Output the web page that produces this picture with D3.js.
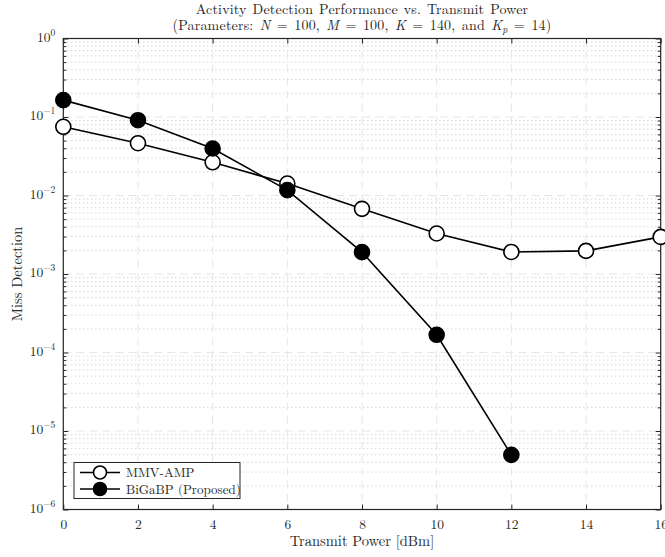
<!DOCTYPE html>
<html>
<head>
<meta charset="utf-8">
<script src="https://cdn.jsdelivr.net/npm/d3@7"></script>
<style>
  html, body { margin: 0; padding: 0; background: #fff; }
  svg { display: block; }
  text { font-family: "Latin Modern Roman", "CMU Serif", "Liberation Serif", serif; fill: #262626; }
</style>
</head>
<body>
<svg id="chart" width="665" height="557"></svg>
<script>
// Transmit power sweep [dBm]
const powerDbm = [0, 2, 4, 6, 8, 10, 12, 14, 16];
// Miss-detection probability per scheme
const mmvAmp = [0.075, 0.0464, 0.0265, 0.0142, 0.00676, 0.00328, 0.00191, 0.00197, 0.00297];
const biGaBP = [0.164, 0.091, 0.0397, 0.0117, 0.0019, 0.000168, 0.00000496];
const xTicks = [0, 2, 4, 6, 8, 10, 12, 14, 16];
const yExponents = [0, -1, -2, -3, -4, -5, -6];
const seriesNames = ["MMV-AMP", "BiGaBP (Proposed)"];

const svg = d3.select("#chart");
const plotL = 63.3, plotR = 660.7, plotT = 38.5, plotB = 509.5;

const x = d3.scaleLinear().domain([0, 16]).range([plotL, plotR]);
const y = d3.scaleLog().domain([1e-6, 1]).range([plotB, plotT]);

const axisColor = "#262626";

// grid: minor (dotted) then major (dashed)
const minorVals = [];
yExponents.slice(1).forEach(e => { for (let k = 2; k <= 9; k++) minorVals.push(k * Math.pow(10, e)); });
const majorVals = yExponents.map(e => Math.pow(10, e));
const grid = svg.append("g");
grid.selectAll("line.ymin").data(minorVals).join("line")
  .attr("x1", plotL).attr("x2", plotR)
  .attr("y1", d => y(d)).attr("y2", d => y(d))
  .attr("stroke", "#c4c4c4").attr("stroke-width", 1)
  .attr("stroke-dasharray", "1,3");
grid.selectAll("line.ymaj").data(majorVals).join("line")
  .attr("x1", plotL).attr("x2", plotR)
  .attr("y1", d => y(d)).attr("y2", d => y(d))
  .attr("stroke", "#e6e6e6").attr("stroke-width", 1)
  .attr("stroke-dasharray", "8,5");
grid.selectAll("line.xmaj").data(xTicks).join("line")
  .attr("x1", d => x(d)).attr("x2", d => x(d))
  .attr("y1", plotT).attr("y2", plotB)
  .attr("stroke", "#e6e6e6").attr("stroke-width", 1)
  .attr("stroke-dasharray", "8,5");

// axes box with inward ticks
svg.append("rect").attr("x", plotL).attr("y", plotT)
  .attr("width", plotR - plotL).attr("height", plotB - plotT)
  .attr("fill", "none").attr("stroke", axisColor).attr("stroke-width", 1.2);

const xb = d3.axisBottom(x).tickValues(xTicks).tickSize(-5).tickFormat(d3.format("d")).tickPadding(10);
const xt = d3.axisTop(x).tickValues(xTicks).tickSize(-5).tickFormat("");
const yl = d3.axisLeft(y).tickValues(majorVals).tickSize(-5).tickFormat("");
const yr = d3.axisRight(y).tickValues(majorVals).tickSize(-5).tickFormat("");
const ylm = d3.axisLeft(y).tickValues(minorVals).tickSize(-3).tickFormat("");
const yrm = d3.axisRight(y).tickValues(minorVals).tickSize(-3).tickFormat("");

function styleAxis(g) {
  g.select(".domain").remove();
  g.selectAll(".tick line").attr("stroke", axisColor).attr("stroke-width", 1);
  g.selectAll(".tick text").attr("fill", axisColor).attr("font-size", 13.5)
    .attr("font-family", '"Liberation Serif", serif');
}
svg.append("g").attr("transform", `translate(0,${plotB})`).call(xb).call(styleAxis);
svg.append("g").attr("transform", `translate(0,${plotT})`).call(xt).call(styleAxis);
svg.append("g").attr("transform", `translate(${plotL},0)`).call(yl).call(styleAxis);
svg.append("g").attr("transform", `translate(${plotR},0)`).call(yr).call(styleAxis);
svg.append("g").attr("transform", `translate(${plotL},0)`).call(ylm).call(styleAxis);
svg.append("g").attr("transform", `translate(${plotR},0)`).call(yrm).call(styleAxis);

// y tick labels as 10^e
const yLab = svg.append("g");
yExponents.forEach(e => {
  const t = yLab.append("text")
    .attr("x", plotL - 8).attr("y", y(Math.pow(10, e)) + 3)
    .attr("text-anchor", "end").attr("font-size", 13.5);
  t.append("tspan").text("10");
  t.append("tspan").attr("dy", -6).attr("font-size", 9.5).text(e === 0 ? "0" : "\u2212" + Math.abs(e));
});

// series
const line = d3.line().x(d => x(d[0])).y(d => y(d[1]));
const series = [
  { name: seriesNames[0], values: mmvAmp, fill: "#fff" },
  { name: seriesNames[1], values: biGaBP, fill: "#000" }
];
series.forEach(s => {
  const pts = s.values.map((v, i) => [powerDbm[i], v]);
  svg.append("path").datum(pts).attr("d", line)
    .attr("fill", "none").attr("stroke", "#000").attr("stroke-width", 1.6);
  svg.append("g").selectAll("circle").data(pts).join("circle")
    .attr("cx", d => x(d[0])).attr("cy", d => y(d[1])).attr("r", 7.5)
    .attr("fill", s.fill).attr("stroke", "#000").attr("stroke-width", 1.6);
});

// title (two lines)
const title = svg.append("g").attr("text-anchor", "middle");
title.append("text").attr("x", (plotL + plotR) / 2).attr("y", 14).attr("font-size", 14)
  .attr("word-spacing", 1).attr("letter-spacing", 0.2)
  .text("Activity Detection Performance vs. Transmit Power");
const t2 = title.append("text").attr("x", (plotL + plotR) / 2).attr("y", 29.5).attr("font-size", 14)
  .attr("word-spacing", 1.5).attr("letter-spacing", 0.2);
t2.append("tspan").text("(Parameters: ");
t2.append("tspan").attr("font-style", "italic").text("N");
t2.append("tspan").text(" = 100, ");
t2.append("tspan").attr("font-style", "italic").text("M");
t2.append("tspan").text(" = 100, ");
t2.append("tspan").attr("font-style", "italic").text("K");
t2.append("tspan").text(" = 140, and ");
t2.append("tspan").attr("font-style", "italic").text("K");
t2.append("tspan").attr("font-style", "italic").attr("font-size", 10).attr("dy", 3).text("p");
t2.append("tspan").attr("dy", -3).text(" = 14)");

// axis labels
svg.append("text").attr("x", (plotL + plotR) / 2).attr("y", 546)
  .attr("text-anchor", "middle").attr("font-size", 14.5).text("Transmit Power [dBm]");
svg.append("text").attr("transform", `translate(22,${(plotT + plotB) / 2}) rotate(-90)`)
  .attr("text-anchor", "middle").attr("font-size", 14.5).text("Miss Detection");

// legend
const lg = svg.append("g");
lg.append("rect").attr("x", 74).attr("y", 462.5).attr("width", 166).attr("height", 36)
  .attr("fill", "#fff").attr("stroke", axisColor).attr("stroke-width", 1);
series.forEach((s, i) => {
  const yy = 472.5 + i * 16.5;
  lg.append("line").attr("x1", 80).attr("x2", 120).attr("y1", yy).attr("y2", yy)
    .attr("stroke", "#000").attr("stroke-width", 1.6);
  lg.append("circle").attr("cx", 100).attr("cy", yy).attr("r", 6.5)
    .attr("fill", s.fill).attr("stroke", "#000").attr("stroke-width", 1.6);
  lg.append("text").attr("x", 126).attr("y", yy + 4.5).attr("font-size", 13).text(s.name);
});
</script>
</body>
</html>
